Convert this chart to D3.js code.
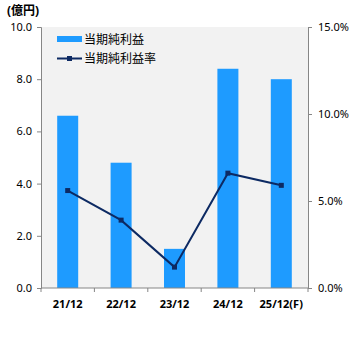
<!DOCTYPE html>
<html>
<head>
<meta charset="utf-8">
<script src="https://cdn.jsdelivr.net/npm/d3@7"></script>
<style>
  html, body { margin: 0; padding: 0; background: #fff; }
  svg { display: block; }
  text { font-family: "Noto Sans", "Noto Sans CJK JP", sans-serif; fill: #000; }
</style>
</head>
<body>
<svg id="chart" width="359" height="341"></svg>
<script>
// 決算期
const categories = ["21/12", "22/12", "23/12", "24/12", "25/12(F)"];
// 当期純利益（億円）
const netIncome = [6.6, 4.8, 1.5, 8.4, 8.0];
// 当期純利益率（%）
const netMargin = [5.6, 3.9, 1.2, 6.6, 5.9];
// 目盛
const leftTicks = [0, 2, 4, 6, 8, 10];
const rightTicks = [0, 5, 10, 15];

const svg = d3.select("#chart");
const plot = { left: 41, right: 308, top: 27, bottom: 288 };

const xCat = d3.scaleBand().domain(categories).range([plot.left, plot.right]);
const yL = d3.scaleLinear().domain([0, 10]).range([plot.bottom, plot.top]);
const yR = d3.scaleLinear().domain([0, 15]).range([plot.bottom, plot.top]);

// plot background
svg.append("rect")
  .attr("x", plot.left).attr("y", plot.top)
  .attr("width", plot.right - plot.left).attr("height", plot.bottom - plot.top)
  .attr("fill", "#f2f2f2");

// bars
svg.append("g").selectAll("rect").data(netIncome).join("rect")
  .attr("x", (d, i) => xCat(categories[i]) + xCat.bandwidth() / 2 - 10.5)
  .attr("width", 21)
  .attr("y", d => yL(d))
  .attr("height", d => yL(0) - yL(d))
  .attr("fill", "#1e9bff");

// axes
const axisColor = "#868686";
const leftAxis = svg.append("g").attr("transform", `translate(${plot.left},0)`)
  .call(d3.axisLeft(yL).tickValues(leftTicks).tickFormat(d3.format(".1f")).tickSize(4).tickPadding(5));
const rightAxis = svg.append("g").attr("transform", `translate(${plot.right},0)`)
  .call(d3.axisRight(yR).tickValues(rightTicks).tickFormat(d => d3.format(".1f")(d) + "%").tickSize(4).tickPadding(6));
[leftAxis, rightAxis].forEach(g => {
  g.select(".domain").attr("stroke", axisColor);
  g.selectAll(".tick line").attr("stroke", axisColor);
  g.selectAll(".tick text").attr("font-size", 11).attr("fill", "#000")
    .attr("font-family", "'Noto Sans', sans-serif");
});

// category axis with ticks between categories
const bottomAxis = svg.append("g").attr("transform", `translate(0,${plot.bottom})`);
bottomAxis.append("line")
  .attr("x1", plot.left).attr("x2", plot.right)
  .attr("stroke", axisColor);
const bounds = categories.map(c => xCat(c)).concat([plot.right]);
bottomAxis.selectAll("line.tk").data(bounds).join("line").attr("class", "tk")
  .attr("x1", d => d).attr("x2", d => d).attr("y1", 0).attr("y2", 4)
  .attr("stroke", axisColor);
bottomAxis.selectAll("text").data(categories).join("text")
  .attr("x", d => xCat(d) + xCat.bandwidth() / 2)
  .attr("y", 20)
  .attr("text-anchor", "middle")
  .attr("font-size", 11).attr("font-weight", "bold")
  .text(d => d);

// margin line
const cx = (d, i) => xCat(categories[i]) + xCat.bandwidth() / 2;
const line = d3.line().x(cx).y(d => yR(d));
svg.append("path").datum(netMargin)
  .attr("d", line).attr("fill", "none")
  .attr("stroke", "#0d2a63").attr("stroke-width", 2);
svg.append("g").selectAll("rect").data(netMargin).join("rect")
  .attr("x", (d, i) => cx(d, i) - 2.5).attr("y", d => yR(d) - 2.5)
  .attr("width", 5).attr("height", 5)
  .attr("fill", "#0d2a63");

// unit label
svg.append("text").attr("x", 7).attr("y", 15)
  .attr("font-size", 12).attr("font-weight", "bold")
  .attr("font-family", "'Noto Sans CJK JP', sans-serif")
  .text("(億円)");

// legend
const lg = svg.append("g");
lg.append("rect").attr("x", 57).attr("y", 36).attr("width", 25).attr("height", 6).attr("fill", "#1e9bff");
lg.append("text").attr("x", 84).attr("y", 43.5).attr("font-size", 12)
  .attr("font-family", "'Noto Sans CJK JP', sans-serif").text("当期純利益");
lg.append("line").attr("x1", 57).attr("x2", 82).attr("y1", 58.5).attr("y2", 58.5)
  .attr("stroke", "#0d2a63").attr("stroke-width", 2);
lg.append("rect").attr("x", 67).attr("y", 56).attr("width", 5).attr("height", 5).attr("fill", "#0d2a63");
lg.append("text").attr("x", 84).attr("y", 63).attr("font-size", 12)
  .attr("font-family", "'Noto Sans CJK JP', sans-serif").text("当期純利益率");
</script>
</body>
</html>
